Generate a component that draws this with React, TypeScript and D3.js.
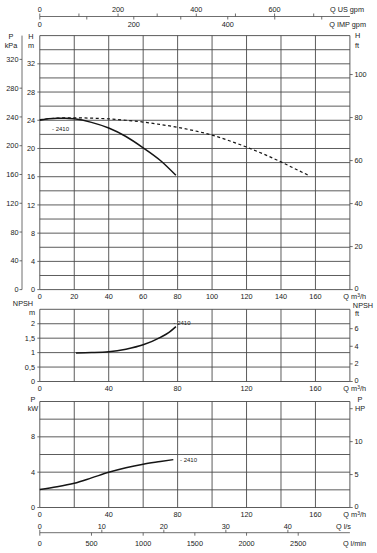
import React from 'react';
import * as d3 from 'd3';

const W = 377;
const HT = 553;

// ---- data ----
const qTicks = [0, 20, 40, 60, 80, 100, 120, 140, 160];
const qTicksSparse = [0, 40, 80, 120, 160];
const hTicks = [0, 4, 8, 12, 16, 20, 24, 28, 32];
const kpaTicks = [0, 40, 80, 120, 160, 200, 240, 280, 320];
const ftTicks = [0, 20, 40, 60, 80, 100];
const npshMTicks = [0, 0.5, 1, 1.5, 2];
const npshMLabels = ['0', '0,5', '1', '1,5', '2'];
const npshFtTicks = [0, 2, 4, 6];
const kwTicks = [0, 4, 8];
const hpTicks = [0, 5, 10];
const usGpmLabels = [0, 200, 400, 600];
const usGpmMinor = [0, 100, 200, 300, 400, 500, 600, 700];
const impGpmLabels = [0, 200, 400];
const impGpmMinor = [0, 100, 200, 300, 400, 500, 600];
const lsLabels = [0, 10, 20, 30, 40];
const lminLabels = [0, 500, 1000, 1500, 2000, 2500];

const headQ = [0, 5, 10, 15, 20, 30, 40, 50, 60, 70, 79];
const headH = [24.0, 24.2, 24.3, 24.3, 24.2, 23.7, 22.9, 21.7, 20.1, 18.3, 16.2];
const head2Q = [0, 10, 20, 30, 40, 50, 60, 70, 80, 90, 100, 110, 120, 130, 140, 150, 156];
const head2H = [24.1, 24.3, 24.35, 24.3, 24.2, 24.0, 23.75, 23.4, 23.0, 22.5, 21.9, 21.1, 20.2, 19.2, 18.1, 16.9, 16.2];
const npshQ = [21, 30, 40, 50, 60, 70, 75, 79];
const npshV = [0.99, 1.0, 1.03, 1.12, 1.27, 1.53, 1.7, 1.9];
const powQ = [0, 10, 20, 30, 40, 50, 60, 70, 77.5];
const powV = [2.05, 2.35, 2.75, 3.35, 3.98, 4.5, 4.9, 5.2, 5.42];
const modelName = '2410';

// ---- scales ----
const X0 = 39.8;
const X1 = 349.9;
const x = d3.scaleLinear().domain([0, 180]).range([X0, X1]);
const yH = d3.scaleLinear().domain([0, 36]).range([289.6, 35.6]);
const yN = d3.scaleLinear().domain([0, 2.5]).range([381.5, 309.3]);
const yP = d3.scaleLinear().domain([0, 12]).range([507.5, 401.5]);

const FONT = "'Liberation Sans', Arial, Helvetica, sans-serif";
const FS = 7.3;
const GRID = '#4a4a4a';
const CURVE = '#151515';
const TXT = '#222';

function Grid({ y, hStep, hMax }: { y: d3.ScaleLinear<number, number>; hStep: number; hMax: number }) {
  const hs = d3.range(0, hMax + 1e-9, hStep);
  const vs = d3.range(0, 181, 20);
  const [y0, y1] = y.range();
  return (
    <g>
      {hs.map((v) => (
        <line key={'h' + v} x1={X0} x2={X1} y1={y(v)} y2={y(v)} stroke={GRID} strokeWidth={0.9} />
      ))}
      {vs.map((v) => (
        <line key={'v' + v} x1={x(v)} x2={x(v)} y1={y0} y2={y1} stroke={GRID} strokeWidth={0.9} />
      ))}
    </g>
  );
}

function LeftTicks({ y, vals, labels, axisX, labelX }: { y: (v: number) => number; vals: number[]; labels: string[]; axisX: number; labelX: number }) {
  return (
    <g>
      {vals.map((v, i) => (
        <g key={i}>
          <line x1={axisX - 2.5} x2={axisX} y1={y(v)} y2={y(v)} stroke={GRID} strokeWidth={0.8} />
          <text x={labelX} y={y(v) + 2.6} textAnchor="end" fontSize={FS} fill={TXT}>
            {labels[i]}
          </text>
        </g>
      ))}
    </g>
  );
}

function RightTicks({ y, vals, labels }: { y: (v: number) => number; vals: number[]; labels: string[] }) {
  return (
    <g>
      {vals.map((v, i) => (
        <g key={i}>
          <line x1={X1} x2={X1 + 2.8} y1={y(v)} y2={y(v)} stroke={GRID} strokeWidth={0.8} />
          <text x={X1 + 4.5} y={y(v) + (v === 0 ? 1.6 : 2.6)} textAnchor="start" fontSize={FS} fill={TXT}>
            {labels[i]}
          </text>
        </g>
      ))}
    </g>
  );
}

function QLabels({ vals, yBase }: { vals: number[]; yBase: number }) {
  return (
    <g>
      {vals.map((v) => (
        <text key={v} x={x(v)} y={yBase} textAnchor="middle" fontSize={FS} fill={TXT}>
          {v}
        </text>
      ))}
      <text x={366} y={yBase} textAnchor="end" fontSize={FS} fill={TXT}>
        Q m<tspan fontSize={5} dy={-2.5}>3</tspan>
        <tspan dy={2.5}>/h</tspan>
      </text>
    </g>
  );
}

export default function App() {
  const line = (ys: d3.ScaleLinear<number, number>) =>
    d3
      .line<[number, number]>()
      .x((d) => x(d[0]))
      .y((d) => ys(d[1]))
      .curve(d3.curveMonotoneX);

  const headPts = headQ.map((q, i) => [q, headH[i]] as [number, number]);
  const head2Pts = head2Q.map((q, i) => [q, head2H[i]] as [number, number]);
  const npshPts = npshQ.map((q, i) => [q, npshV[i]] as [number, number]);
  const powPts = powQ.map((q, i) => [q, powV[i]] as [number, number]);

  const usToM3h = 0.22712;
  const impToM3h = 0.272765;
  const lsToM3h = 3.6;
  const lminToM3h = 0.06;

  return (
    <svg
      width={W}
      height={HT}
      viewBox={`0 0 ${W} ${HT}`}
      style={{ position: 'absolute', left: 0, top: 0, background: '#fff', fontFamily: FONT }}
    >
      <rect x={0} y={0} width={W} height={HT} fill="#fff" />

      {/* ---- Top flow axes ---- */}
      <line x1={X0} x2={X1} y1={16.5} y2={16.5} stroke={GRID} strokeWidth={0.8} />
      {usGpmMinor.map((v) => (
        <line key={'us' + v} x1={x(v * usToM3h)} x2={x(v * usToM3h)} y1={16.5} y2={13.5} stroke={GRID} strokeWidth={0.8} />
      ))}
      {impGpmMinor.map((v) => (
        <line key={'imp' + v} x1={x(v * impToM3h)} x2={x(v * impToM3h)} y1={16.5} y2={19.5} stroke={GRID} strokeWidth={0.8} />
      ))}
      {usGpmLabels.map((v) => (
        <text key={'usl' + v} x={x(v * usToM3h)} y={11.5} textAnchor="middle" fontSize={FS} fill={TXT}>
          {v}
        </text>
      ))}
      {impGpmLabels.map((v) => (
        <text key={'impl' + v} x={x(v * impToM3h)} y={27} textAnchor="middle" fontSize={FS} fill={TXT}>
          {v}
        </text>
      ))}
      <text x={364} y={11.5} textAnchor="end" fontSize={FS} fill={TXT}>Q US gpm</text>
      <text x={366} y={27} textAnchor="end" fontSize={FS} fill={TXT}>Q IMP gpm</text>

      {/* ---- Head chart ---- */}
      <Grid y={yH} hStep={2} hMax={36} />
      <line x1={22} x2={22} y1={yH(36)} y2={yH(0)} stroke={GRID} strokeWidth={0.8} />
      <LeftTicks y={(v) => yH(v / 9.807)} vals={kpaTicks} labels={kpaTicks.map(String)} axisX={22} labelX={18.5} />
      <LeftTicks y={yH} vals={hTicks} labels={hTicks.map(String)} axisX={X0} labelX={35} />
      <RightTicks y={(v) => yH(v * 0.3048)} vals={ftTicks} labels={ftTicks.map(String)} />
      <text x={11} y={39} textAnchor="middle" fontSize={FS} fill={TXT}>P</text>
      <text x={11} y={47.5} textAnchor="middle" fontSize={FS} fill={TXT}>kPa</text>
      <text x={31} y={39} textAnchor="middle" fontSize={FS} fill={TXT}>H</text>
      <text x={31} y={47.5} textAnchor="middle" fontSize={FS} fill={TXT}>m</text>
      <text x={355} y={37.5} textAnchor="start" fontSize={FS} fill={TXT}>H</text>
      <text x={355} y={47.5} textAnchor="start" fontSize={FS} fill={TXT}>ft</text>
      <path d={line(yH)(head2Pts) || ''} fill="none" stroke={CURVE} strokeWidth={1.2} strokeDasharray="3,2.6" />
      <path d={line(yH)(headPts) || ''} fill="none" stroke={CURVE} strokeWidth={1.5} />
      <text x={52} y={131} fontSize={6} fill={TXT}>- {modelName}</text>
      <QLabels vals={qTicks} yBase={299} />

      {/* ---- NPSH chart ---- */}
      <Grid y={yN} hStep={0.5} hMax={2.5} />
      <LeftTicks y={yN} vals={npshMTicks} labels={npshMLabels} axisX={X0} labelX={35} />
      <RightTicks y={(v) => yN(v * 0.3048)} vals={npshFtTicks} labels={npshFtTicks.map(String)} />
      <text x={23} y={306} textAnchor="middle" fontSize={FS} fill={TXT}>NPSH</text>
      <text x={35} y={314.5} textAnchor="end" fontSize={FS} fill={TXT}>m</text>
      <text x={363} y={308} textAnchor="middle" fontSize={FS} fill={TXT}>NPSH</text>
      <text x={355} y={315.5} textAnchor="start" fontSize={FS} fill={TXT}>ft</text>
      <path d={line(yN)(npshPts) || ''} fill="none" stroke={CURVE} strokeWidth={1.5} />
      <text x={173.5} y={325} fontSize={6} fill={TXT}>- {modelName}</text>
      <QLabels vals={qTicksSparse} yBase={391} />

      {/* ---- Power chart ---- */}
      <Grid y={yP} hStep={2} hMax={12} />
      <LeftTicks y={yP} vals={kwTicks} labels={kwTicks.map(String)} axisX={X0} labelX={35} />
      <RightTicks y={(v) => yP(v * 0.7457)} vals={hpTicks} labels={hpTicks.map(String)} />
      <line x1={X1} x2={X1 + 2.8} y1={yP(15 * 0.7457)} y2={yP(15 * 0.7457)} stroke={GRID} strokeWidth={0.8} />
      <text x={33} y={401.5} textAnchor="middle" fontSize={FS} fill={TXT}>P</text>
      <text x={33} y={410.5} textAnchor="middle" fontSize={FS} fill={TXT}>kW</text>
      <text x={360} y={401.5} textAnchor="middle" fontSize={FS} fill={TXT}>P</text>
      <text x={355} y={410.5} textAnchor="start" fontSize={FS} fill={TXT}>HP</text>
      <path d={line(yP)(powPts) || ''} fill="none" stroke={CURVE} strokeWidth={1.5} />
      <text x={180} y={462} fontSize={6} fill={TXT}>- {modelName}</text>
      <QLabels vals={qTicksSparse} yBase={517} />

      {/* ---- Bottom flow axes ---- */}
      <line x1={X0} x2={X1} y1={532.7} y2={532.7} stroke={GRID} strokeWidth={0.8} />
      {lsLabels.map((v) => (
        <g key={'ls' + v}>
          <line x1={x(v * lsToM3h)} x2={x(v * lsToM3h)} y1={532.7} y2={529.7} stroke={GRID} strokeWidth={0.8} />
          <text x={x(v * lsToM3h)} y={528.5} textAnchor="middle" fontSize={FS} fill={TXT}>
            {v}
          </text>
        </g>
      ))}
      {lminLabels.map((v) => (
        <g key={'lm' + v}>
          <line x1={x(v * lminToM3h)} x2={x(v * lminToM3h)} y1={532.7} y2={535.7} stroke={GRID} strokeWidth={0.8} />
          <text x={x(v * lminToM3h)} y={546} textAnchor="middle" fontSize={FS} fill={TXT}>
            {v}
          </text>
        </g>
      ))}
      <text x={351} y={528.5} textAnchor="end" fontSize={FS} fill={TXT}>Q l/s</text>
      <text x={366} y={546} textAnchor="end" fontSize={FS} fill={TXT}>Q l/min</text>
    </svg>
  );
}
